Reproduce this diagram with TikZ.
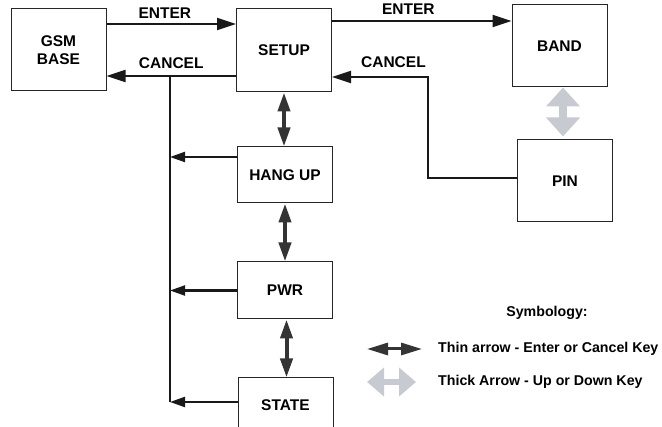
\documentclass[tikz,border=0pt]{standalone}
\usepackage{fontspec}
\setmainfont{Liberation Sans}
\usetikzlibrary{arrows.meta}
\definecolor{keygrey}{RGB}{199,203,209}
\definecolor{keydark}{RGB}{52,52,52}
\tikzset{
    keybox/.style={draw=black!85,line width=1pt,minimum width=95pt,inner sep=0pt,
        align=center,font=\fontsize{15.5}{18}\selectfont\bfseries},
    conn/.style={line width=2.1pt,black!90},
    keyarrow/.style={conn,-{Triangle[length=19pt,width=12pt]}},
    busarrow/.style={conn,-{Triangle[length=15pt,width=10pt]}},
    thinkey/.style={keydark,line width=4pt,{Triangle[length=19pt,width=12pt]}-{Triangle[length=19pt,width=12pt]}},
    thickkey/.style={keygrey,line width=8pt,{Triangle[length=19pt,width=33pt]}-{Triangle[length=19pt,width=33pt]}},
    keylabel/.style={inner sep=1pt,text=black,font=\fontsize{15.5}{18}\selectfont\bfseries},
    legendtext/.style={anchor=west,inner sep=0pt,font=\fontsize{14.2}{16}\selectfont\bfseries},
}
\begin{document}
\begin{tikzpicture}[x=1pt,y=-1pt]
    \useasboundingbox (0,0) rectangle (662,427);
    \foreach \nm/\px/\py/\bh/\txt in {gsm/58.5/50/82/{GSM\\BASE},setup/284/50.5/83/SETUP,
        band/559.5/46/82/BAND,pin/565/181/82/PIN,hangup/285/175/56/HANG UP,
        pwr/285/290.5/57/PWR,state/285.5/405/54/STATE}{
        \node[keybox,minimum height=\bh pt] (\nm) at (\px,\py) {\txt};
    }
    \path ([yshift=26pt]gsm.east) coordinate (gsmin)
          ([yshift=-26pt]gsm.east) coordinate (gsmout)
          ([yshift=29.5pt]setup.east) coordinate (setupout)
          ([yshift=-26.5pt]setup.east) coordinate (setupin)
          ([yshift=3pt]pin.west) coordinate (pinout)
          ([yshift=18pt]hangup.west) coordinate (hangupout)
          ([yshift=3pt]state.west) coordinate (stateout)
          ([xshift=-2pt]pin.north) coordinate (pintop);
    \coordinate (bus) at (170,0);
    \coordinate (pinjog) at (428,0);
    \draw[keyarrow] (gsmin) -- node[keylabel,above=3.5pt,pos=0.45] {ENTER} (gsmin -| setup.west);
    \draw[keyarrow] (gsmout -| setup.west) -- node[keylabel,above=5.5pt] {CANCEL} (gsmout);
    \draw[keyarrow] (setupout) -- node[keylabel,above=4.5pt,pos=0.425] {ENTER} (setupout -| band.west);
    \draw[keyarrow] (pinout) -- (pinout -| pinjog) |- node[keylabel,above=7.5pt,pos=0.68] {CANCEL} (setupin);
    % cancel bus back to the base
    \draw[conn] (gsmout -| bus) -- (stateout -| bus);
    \draw[busarrow] (hangupout) -- (hangupout -| bus);
    \draw[busarrow] (pwr.west) -- (pwr.west -| bus);
    \draw[busarrow] (stateout) -- (stateout -| bus);
    \draw[thinkey] (setup.south) -- (setup.south |- hangup.north);
    \draw[thinkey] (hangup.south) -- (hangup.south |- pwr.north);
    \draw[thinkey] ([xshift=1.5pt]pwr.south) -- ([xshift=1.5pt]pwr.south |- state.north);
    \draw[thickkey,shorten >=3pt] (pintop |- band.south) -- (pintop);
    % symbology
    \node[legendtext,anchor=center] (symb) at (547,313) {Symbology:};
    \draw[keydark,line width=3pt,{Triangle[length=21pt,width=12pt]}-{Triangle[length=21pt,width=12pt]}]
        (367,349) coordinate (thina) -- (422,349) coordinate (thinb);
    \node[legendtext] (thintxt) at (438,349) {Thin arrow - Enter or Cancel Key};
    \draw[keygrey,line width=6pt,{Triangle[length=17pt,width=28pt]}-{Triangle[length=17pt,width=28pt]}]
        (367,382) coordinate (thicka) -- (416,382) coordinate (thickb);
    \node[legendtext] (thicktxt) at (438,382) {Thick Arrow - Up or Down Key};
\end{tikzpicture}
\end{document}
